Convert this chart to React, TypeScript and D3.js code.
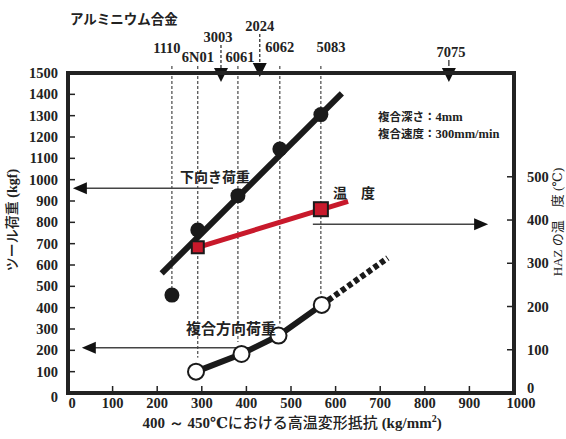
import React from "react";
import * as d3 from "d3";

const W = 566, H = 439;
const xTicks = [0, 100, 200, 300, 400, 500, 600, 700, 800, 900, 1000];
const yTicks = [0, 100, 200, 300, 400, 500, 600, 700, 800, 900, 1000, 1100, 1200, 1300, 1400, 1500];
const tTicks = [0, 100, 200, 300, 400, 500];

// alloys: name, deformation resistance
const alloyNames = ["1110", "6N01", "3003", "6061", "2024", "6062", "5083", "7075"];
const alloyX = [233, 291, 343, 381, 430, 475, 567, 854];
const alloyMarker = ["tick", "tick", "triangle", "tick", "triangle", "tick", "tick", "triangle"];

// downward load (kgf)
const downX = [233, 291, 381, 475, 567];
const downY = [459, 764, 925, 1144, 1305];
const downFitX = [210, 614];
const downFitY = [561, 1405];

// temperature (℃)
const tempX = [291, 567];
const tempY = [337, 425];
const tempLineX = [291, 628];
const tempLineY = [337, 443];

// composite-direction load (kgf)
const compX = [287, 389, 472, 569];
const compY = [100, 183, 269, 413];
const compExtX = [569, 717];
const compExtY = [413, 633];

const FN = "'Liberation Serif', 'DejaVu Serif', serif";
const FJ = "'Noto Sans CJK JP', 'Noto Sans', sans-serif";

export default function App() {
  const x = d3.scaleLinear().domain([0, 1000]).range([68, 514]);
  const y = d3.scaleLinear().domain([0, 1500]).range([393, 73]);
  const t = d3.scaleLinear().domain([0, 740]).range([393, 73]);
  const line = d3.line<[number, number]>().x(d => x(d[0])).y(d => y(d[1]));
  const tline = d3.line<[number, number]>().x(d => x(d[0])).y(d => t(d[1]));

  const labelPos: Record<string, [number, number]> = {
    "1110": [-5, 53], "6N01": [0, 62], "3003": [-3, 42], "6061": [2, 62],
    "2024": [0, 31], "6062": [0, 52], "5083": [10, 52], "7075": [2, 57],
  };
  // bottom end of the dashed guide lines
  const guideEnd: Record<string, number> = {
    "1110": y(459), "6N01": y(100) - 14, "6061": y(183) - 12, "6062": y(269) - 12, "5083": y(413) - 10,
  };

  const arrow = (x1: number, x2: number, yy: number, dir: number) => {
    const tip = x2;
    return (
      <g>
        <line x1={x1} x2={tip - dir * 12} y1={yy} y2={yy} stroke="#444" strokeWidth={1.5} />
        <path d={`M${tip},${yy} L${tip - dir * 14},${yy - 6} L${tip - dir * 14},${yy + 6} Z`} fill="#111" />
      </g>
    );
  };

  return (
    <svg width={W} height={H} style={{ position: "absolute", left: 0, top: 0, background: "#fff" }}>
      {/* title */}
      <text x={70} y={24} fontFamily={FJ} fontWeight={700} fontSize={13.5} fill="#222">アルミニウム合金</text>

      {/* alloy markers */}
      {alloyNames.map((n, i) => {
        const ax = x(alloyX[i]);
        const [dx, by] = labelPos[n];
        const m = alloyMarker[i];
        return (
          <g key={n}>
            <text x={ax + dx} y={by} textAnchor="middle" fontFamily={FN} fontWeight={700} fontSize={14.5} fill="#222">{n}</text>
            {m === "tick" && (
              <line x1={ax} x2={ax} y1={66} y2={guideEnd[n]} stroke="#222" strokeWidth={1} strokeDasharray="3,2" />
            )}
            {m === "triangle" && (
              <g>
                <line x1={ax} x2={ax} y1={by + 3} y2={n === "3003" ? 70 : 66} stroke="#222" strokeWidth={1.2}
                  strokeDasharray={n === "7075" ? undefined : "3,2"} />
                <path d={`M${ax - 7},${n === "2024" ? 63 : 68} L${ax + 7},${n === "2024" ? 63 : 68} L${ax},${n === "2024" ? 77 : 82} Z`} fill="#111" />
              </g>
            )}
          </g>
        );
      })}

      {/* frame */}
      <rect x={68} y={73} width={446} height={320} fill="none" stroke="#222" strokeWidth={4} />
      {/* ticks */}
      {xTicks.slice(1, -1).map(v => (
        <line key={"xt" + v} x1={x(v)} x2={x(v)} y1={393} y2={386} stroke="#222" strokeWidth={1.5} />
      ))}
      {yTicks.slice(1, -1).map(v => (
        <line key={"yt" + v} x1={68} x2={75} y1={y(v)} y2={y(v)} stroke="#222" strokeWidth={1.5} />
      ))}
      {tTicks.slice(1).map(v => (
        <line key={"tt" + v} x1={514} x2={507} y1={t(v)} y2={t(v)} stroke="#222" strokeWidth={1.5} />
      ))}

      {/* tick labels */}
      {xTicks.map(v => (
        <text key={"xl" + v} x={x(v) + (v === 0 ? 4 : v === 1000 ? 7 : 0)} y={408} textAnchor="middle"
          fontFamily={FN} fontWeight={700} fontSize={14.5} fill="#222">{v}</text>
      ))}
      {yTicks.map(v => (
        <text key={"yl" + v} x={58} y={y(v) + (v === 0 ? 4 : 0)} dy="0.35em" textAnchor="end"
          fontFamily={FN} fontWeight={700} fontSize={14.5} fill="#222">{v}</text>
      ))}
      {tTicks.map(v => (
        <text key={"tl" + v} x={527} y={t(v) - (v === 0 ? 5 : 0)} dy="0.35em" textAnchor="start"
          fontFamily={FN} fontWeight={700} fontSize={14.5} fill="#222">{v}</text>
      ))}

      {/* axis titles */}
      <text x={292} y={428} textAnchor="middle" fontSize={15} fill="#222" fontWeight={700}>
        <tspan fontFamily={FN}>400 ～ 450℃</tspan>
        <tspan fontFamily={FJ} fontWeight={500}>における高温変形抵抗</tspan>
        <tspan fontFamily={FN}> (kg/mm</tspan>
        <tspan fontFamily={FN} fontSize={10} dy={-6}>2</tspan>
        <tspan fontFamily={FN} dy={6}>)</tspan>
      </text>
      <text transform="translate(17,220) rotate(-90)" textAnchor="middle" fontSize={14} fill="#222" fontWeight={700}>
        <tspan fontFamily={FJ} fontWeight={500}>ツール荷重</tspan>
        <tspan fontFamily={FN}> (kgf)</tspan>
      </text>
      <text transform="translate(562,222) rotate(-90)" textAnchor="middle" fontSize={13} fill="#222">
        <tspan fontFamily={FN}>HAZ </tspan>
        <tspan fontFamily={FJ}>の温　度</tspan>
        <tspan fontFamily={FN}> (℃)</tspan>
      </text>

      {/* arrows */}
      {arrow(x(325), x(11), y(960), -1)}
      {arrow(x(549), x(942), t(390), 1)}
      {arrow(x(426), x(31), y(212), -1)}

      {/* downward load */}
      <path d={line(downFitX.map((v, i) => [v, downFitY[i]]) as [number, number][]) || ""} stroke="#1a1a1a" strokeWidth={6} fill="none" />
      {downX.map((v, i) => (
        <circle key={"d" + i} cx={x(v)} cy={y(downY[i])} r={7.5} fill="#1a1a1a" />
      ))}

      {/* temperature */}
      <path d={tline(tempLineX.map((v, i) => [v, tempLineY[i]]) as [number, number][]) || ""} stroke="#c8192b" strokeWidth={5} fill="none" />
      {tempX.map((v, i) => {
        const s = i === 0 ? 12 : 14;
        return <rect key={"t" + i} x={x(v) - s / 2} y={t(tempY[i]) - s / 2} width={s} height={s} fill="#c8192b" stroke="#1a1a1a" strokeWidth={2} />;
      })}

      {/* composite-direction load */}
      <path d={line(compExtX.map((v, i) => [v, compExtY[i]]) as [number, number][]) || ""} stroke="#1a1a1a" strokeWidth={6} strokeDasharray="5,3" fill="none" />
      <path d={line(compX.map((v, i) => [v, compY[i]]) as [number, number][]) || ""} stroke="#1a1a1a" strokeWidth={6} fill="none" />
      {compX.map((v, i) => (
        <circle key={"c" + i} cx={x(v)} cy={y(compY[i])} r={8} fill="#fff" stroke="#1a1a1a" strokeWidth={2} />
      ))}

      {/* annotations */}
      <text x={180} y={182} fontFamily={FJ} fontWeight={700} fontSize={14} fill="#222">下向き荷重</text>
      <text x={333} y={198} fontFamily={FJ} fontWeight={700} fontSize={14} fill="#222">温　度</text>
      <text x={186} y={334} fontFamily={FJ} fontWeight={700} fontSize={15} fill="#222">複合方向荷重</text>
      <text x={378} y={121} fontSize={11.5} fill="#222">
        <tspan fontFamily={FJ} fontWeight={700}>複合深さ：</tspan>
        <tspan fontFamily={FN} fontWeight={700} fontSize={12.5}>4mm</tspan>
      </text>
      <text x={378} y={138} fontSize={11.5} fill="#222">
        <tspan fontFamily={FJ} fontWeight={700}>複合速度：</tspan>
        <tspan fontFamily={FN} fontWeight={700} fontSize={12.5}>300mm/min</tspan>
      </text>
    </svg>
  );
}
